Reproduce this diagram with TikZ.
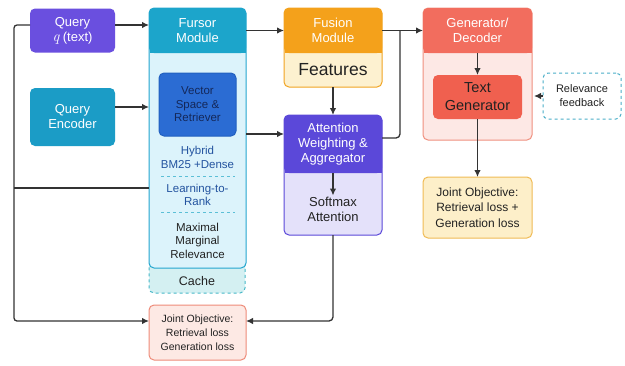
\documentclass[tikz,border=0pt]{standalone}
\usepackage{fontspec}
\setmainfont{Liberation Sans}
\newfontfamily\lmfont{Latin Modern Roman}
\usetikzlibrary{arrows.meta}
\definecolor{qpurple}{HTML}{6A4FDF}
\definecolor{qenc}{HTML}{1B9CC6}
\definecolor{fuhead}{HTML}{1CA5CB}
\definecolor{fubody}{HTML}{DCF3FB}
\definecolor{fuborder}{HTML}{23A6CF}
\definecolor{vecblue}{HTML}{2B6CD3}
\definecolor{vecborder}{HTML}{2260C0}
\definecolor{vectxt}{HTML}{14285A}
\definecolor{cachef}{HTML}{D4F0F2}
\definecolor{cacheb}{HTML}{48B8C8}
\definecolor{dashc}{HTML}{5BBFD6}
\definecolor{bluetxt}{HTML}{23539F}
\definecolor{fushead}{HTML}{F4A11B}
\definecolor{fusbody}{HTML}{FDF1D0}
\definecolor{fusborder}{HTML}{F1A422}
\definecolor{atthead}{HTML}{5B48D9}
\definecolor{attbody}{HTML}{E4E1FA}
\definecolor{genhead}{HTML}{F26D5E}
\definecolor{genbody}{HTML}{FDE8E5}
\definecolor{genborder}{HTML}{F0907F}
\definecolor{textgen}{HTML}{F0604F}
\definecolor{jrfill}{HTML}{FDEFC9}
\definecolor{jrborder}{HTML}{F0BB55}
\definecolor{jbfill}{HTML}{FDE9E4}
\definecolor{jbborder}{HTML}{EE8B79}
\definecolor{relborder}{HTML}{4AAFC8}
\definecolor{linec}{HTML}{333333}
\definecolor{darktxt}{HTML}{222222}
\begin{document}
\begin{tikzpicture}[x=1pt,y=-1pt,
  box/.style={rounded corners=5pt, outer sep=0pt, inner sep=1pt, align=center, line width=1pt},
  ttl/.style={font=\fontsize{13}{15}\selectfont, text=white},
  inner/.style={align=center, inner sep=1pt, font=\fontsize{11.5}{13.5}\selectfont},
  conn/.style={draw=linec, line width=1.3pt},
  arr/.style={conn, -{Latex[length=7pt,width=6.5pt]}},
]
\fill[white] (0,0) rectangle (625,365);
\useasboundingbox (0,0) rectangle (625,365);

% Query boxes
\node[box, fill=qpurple, ttl, minimum width=85pt, minimum height=44pt] (query) at (72.5,30.5) {Query\\{\lmfont\itshape\fontsize{15}{15}\selectfont q} (text)};
\node[box, fill=qenc, ttl, minimum width=85pt, minimum height=58pt] (qenc) at (72.5,117) {Query\\Encoder};

% Fursor module
\node[box, draw=cacheb, dashed, fill=cachef, minimum width=96pt, minimum height=33pt] (cache) at (197,276.5) {};
\node[box, draw=fuborder, fill=fubody, minimum width=97pt, minimum height=260pt] (fursor) at (197.5,138) {};
\fill[fuhead] (149.5,30) rectangle (245.5,53);
\node[box, fill=fuhead, ttl, minimum width=97pt, minimum height=45pt] (fursorH) at (197.5,30.5) {Fursor\\Module};
\node[box, fill=vecblue, draw=vecborder, text=vectxt, font=\fontsize{11.5}{13.5}\selectfont, minimum width=77pt, minimum height=63pt] (vec) at (197.5,104.5) {Vector\\Space \&\\Retriever};
\node[inner, text=bluetxt] (hybrid) at (197.5,157.5) {Hybrid\\BM25 +Dense};
\draw[dashed, dashc, line width=0.8pt] (161,176) -- (235,176);
\node[inner, text=bluetxt] (ltr) at (197.5,195) {Learning-to-\\Rank};
\draw[dashed, dashc, line width=0.8pt] (161,212) -- (235,212);
\node[inner, text=darktxt] (mmr) at (197.5,240.5) {Maximal\\Marginal\\Relevance};
\node[inner, text=darktxt, font=\fontsize{12.5}{14}\selectfont] (cachetxt) at (197,281) {Cache};

% Joint objective bottom
\node[box, fill=jbfill, draw=jbborder, text=darktxt, font=\fontsize{10.5}{14}\selectfont, minimum width=97pt, minimum height=55pt] (jointB) at (197.5,332.5) {Joint Objective:\\Retrieval loss\\Generation loss};

% Fusion module
\node[box, draw=fusborder, fill=fusbody, minimum width=98pt, minimum height=79pt] (fusion) at (333,47.5) {};
\fill[fushead] (284.5,30) rectangle (381.5,53);
\node[box, fill=fushead, ttl, minimum width=98pt, minimum height=45pt] (fusionH) at (333,30.5) {Fusion\\Module};
\node[inner, text=darktxt, font=\fontsize{17.5}{20}\selectfont] (features) at (333,70) {Features};

% Attention
\node[box, draw=atthead, fill=attbody, minimum width=98pt, minimum height=120pt] (att) at (333,175) {};
\fill[atthead] (284.5,144) rectangle (381.5,173);
\node[box, fill=atthead, ttl, minimum width=98pt, minimum height=58pt] (attH) at (333,144) {Attention\\Weighting \&\\Aggregator};
\node[inner, text=darktxt, font=\fontsize{13}{15}\selectfont] (softmax) at (333,209) {Softmax\\Attention};

% Generator
\node[box, draw=genborder, fill=genbody, minimum width=109pt, minimum height=132pt] (gen) at (477.5,74) {};
\fill[genhead] (423.5,30) rectangle (531.5,53);
\node[box, fill=genhead, ttl, minimum width=109pt, minimum height=45pt] (genH) at (477.5,30.5) {Generator/\\Decoder};
\node[box, fill=textgen, text=darktxt, font=\fontsize{14.5}{18}\selectfont, minimum width=89pt, minimum height=44pt] (textgenN) at (477.5,97) {Text\\Generator};

% Relevance feedback
\node[box, draw=relborder, dashed, fill=white, text=darktxt, font=\fontsize{11}{14}\selectfont, minimum width=78pt, minimum height=46pt] (rel) at (582,96) {Relevance\\feedback};

% Joint objective right
\node[box, fill=jrfill, draw=jrborder, text=darktxt, font=\fontsize{12}{15.5}\selectfont, minimum width=109pt, minimum height=61pt] (jointR) at (477.5,207.5) {Joint Objective:\\Retrieval loss +\\Generation loss};

% Coordinates
\coordinate (qa) at ([yshift=5.5pt]query.east);
\coordinate (qe) at ([yshift=10pt]qenc.east);
\coordinate (y134) at (0,134);
\coordinate (y188) at (0,188);
\coordinate (lx) at (14,0);
\coordinate (jx) at (400,0);
\coordinate (lq) at ([yshift=5.5pt]query.west);
\coordinate (jbw) at ([yshift=11.5pt]jointB.west);
\coordinate (jbe) at ([yshift=11.5pt]jointB.east);
\coordinate (aj) at ([yshift=6pt]attH.east);
\coordinate (relTip) at (534,96);

% Connectors
\draw[arr] (qa) -- (qa -| fursor.west);
\draw[arr] (qe) -- (qe -| fursor.west);
\draw[arr] (fursorH.east) -- (fusionH.west);
\draw[arr] (fusionH.east) -- (genH.west);
\draw[arr] (fursor.east |- y134) -- (att.west |- y134);
\draw[conn, rounded corners=4pt] (aj) -| (jx |- fusionH.east);
\draw[arr] (fusion.south) -- (att.north);
\draw[arr] (attH.south) -- (softmax.north);
\draw[arr, rounded corners=4pt] (att.south) |- (jbe);
\draw[arr, rounded corners=3pt] (lq) -- (lq -| lx) -- (jbw -| lx) -- (jbw);
\draw[conn] (lx |- y188) -- (fursor.west |- y188);
\draw[arr] (genH.south) -- (textgenN.north);
\draw[arr] (textgenN.south) -- (jointR.north);
\draw[arr] (rel.west) -- (relTip);
\end{tikzpicture}
\end{document}
